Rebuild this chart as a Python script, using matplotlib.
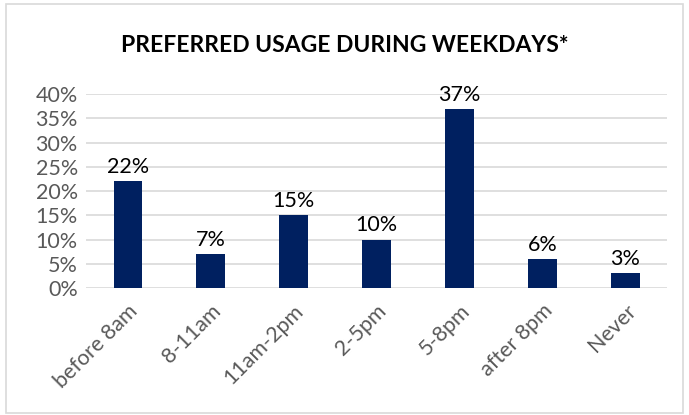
import matplotlib
matplotlib.use('Agg')
import matplotlib.pyplot as plt
from matplotlib.patches import Rectangle
from matplotlib.ticker import PercentFormatter

plt.rcParams['font.family'] = ['Lato', 'DejaVu Sans']

# data
categories = ['before 8am', '8-11am', '11am-2pm', '2-5pm', '5-8pm', 'after 8pm', 'Never']
shares = [22, 7, 15, 10, 37, 6, 3]
title = 'PREFERRED USAGE DURING WEEKDAYS*'

bar_color = '#002060'
grid_color = '#d9d9d9'
tick_color = '#595959'

fig = plt.figure(figsize=(6.89, 4.15), dpi=100)
ax = fig.add_axes([0.125, 0.306, 0.843, 0.467])

x = range(len(categories))
bars = ax.bar(x, shares, width=0.34, color=bar_color, zorder=3)
for rect, v in zip(bars, shares):
    ax.annotate(f'{v}%', (rect.get_x() + rect.get_width() / 2, v),
                xytext=(0, 3), textcoords='offset points',
                ha='center', va='bottom', fontsize=15.5, color='black')

ax.set_xlim(-0.5, len(categories) - 0.5)
ax.set_ylim(0, 40)
ax.set_yticks(range(0, 41, 5))
ax.yaxis.set_major_formatter(PercentFormatter(decimals=0))
ax.set_xticks(list(x))
ax.set_xticklabels(categories, rotation=45, ha='right', rotation_mode='anchor')
ax.tick_params(axis='both', length=0, labelsize=15.5, colors=tick_color)
ax.tick_params(axis='x', pad=9)
ax.tick_params(axis='y', pad=6)
ax.grid(axis='y', color=grid_color, linewidth=1.2, zorder=0)
for s in ax.spines.values():
    s.set_visible(False)

fig.text(0.5, 0.89, title, ha='center', va='center', fontsize=16.5,
         fontweight='bold', color='black')

# chart border
fig.patches.append(Rectangle((0.008, 0.006), 0.984, 0.985, transform=fig.transFigure,
                             fill=False, edgecolor='#d9d9d9', linewidth=1.2))

fig.savefig('out.png', dpi=100)
